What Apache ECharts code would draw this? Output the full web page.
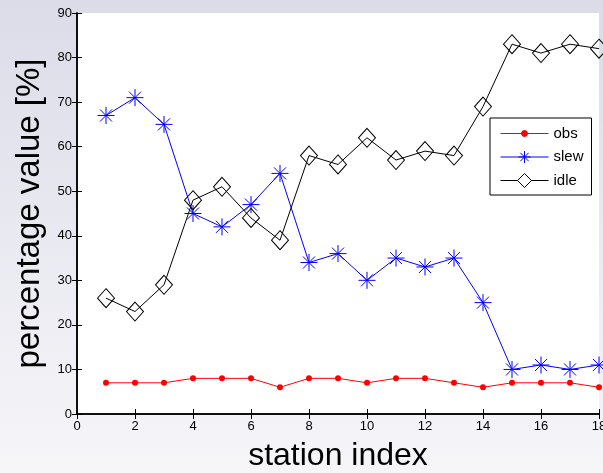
<!DOCTYPE html>
<html>
<head>
<meta charset="utf-8">
<script src="https://cdn.jsdelivr.net/npm/echarts@6/dist/echarts.min.js"></script>
<style>
html,body{margin:0;padding:0;}
body{width:603px;height:473px;background:linear-gradient(180deg,#dcdce9 0%,#e9e9f1 50%,#f6f6f9 100%);}
#c{width:603px;height:473px;}
</style>
</head>
<body>
<div id="c"></div>
<script>
const stations = [1,2,3,4,5,6,7,8,9,10,11,12,13,14,15,16,17,18];
const obs  = [7,7,7,8,8,8,6,8,8,7,8,8,7,6,7,7,7,6];
const slew = [67,71,65,45,42,47,54,34,36,30,35,33,35,25,10,11,10,11];
const idle = [26,23,29,48,51,44,39,58,56,62,57,59,58,69,83,81,83,82];
const xTicks = [0,2,4,6,8,10,12,14,16,18];
const yTicks = [0,10,20,30,40,50,60,70,80,90];

const pair = (xs, ys) => xs.map((x, i) => [x, ys[i]]);
const FONT = 'Liberation Sans, Arial, Helvetica, sans-serif';
const asterisk = 'path://M0,-10L0,10M-10,0L10,0M-7.07,-7.07L7.07,7.07M-7.07,7.07L7.07,-7.07';

// legend icons: line + marker, drawn in a 48x14 box
const iconObs  = 'path://M0,7L48,7M27,7A3,3 0 1 1 21,7A3,3 0 1 1 27,7Z';
const iconSlew = 'path://M0,7L48,7M24,1L24,13M18,7L30,7M19.8,2.8L28.2,11.2M19.8,11.2L28.2,2.8';
const iconIdle = 'path://M0,7L17,7M31,7L48,7M24,0L31,7L24,14L17,7Z';

const chart = echarts.init(document.getElementById('c'), null, {renderer: 'canvas'});
const axisCommon = {
  axisLine: {show: true, lineStyle: {color: '#000', width: 1.5}},
  axisTick: {show: true, inside: true, length: 5, lineStyle: {color: '#000', width: 1}},
  splitLine: {show: false}
};
chart.setOption({
  backgroundColor: 'transparent',
  animation: false,
  textStyle: {fontFamily: FONT},
  grid: {left: 77, right: 4, top: 13, bottom: 59, show: true, backgroundColor: '#fff', borderWidth: 0,
    containLabel: false, outerBoundsMode: 'none'},
  legend: {
    orient: 'vertical', left: 490, top: 118,
    backgroundColor: '#fff', borderColor: '#000', borderWidth: 1,
    padding: [8, 8, 7, 10], itemGap: 8.5, itemWidth: 48, itemHeight: 14,
    textStyle: {fontSize: 15, color: '#000', fontFamily: FONT},
    data: [
      {name: 'obs', icon: iconObs, itemStyle: {color: '#ff0000', borderColor: '#ff0000', borderWidth: 1}},
      {name: 'slew', icon: iconSlew, itemStyle: {color: 'rgba(0,0,0,0)', borderColor: '#0000ff', borderWidth: 1}},
      {name: 'idle', icon: iconIdle, itemStyle: {color: '#fff', borderColor: '#000', borderWidth: 1}}
    ]
  },
  xAxis: [
    Object.assign({
      type: 'value', min: 0, max: 18, interval: 2, position: 'bottom',
      name: 'station index', nameLocation: 'middle', nameGap: 26,
      nameTextStyle: {fontSize: 32, color: '#000', fontFamily: FONT},
      axisLabel: {color: '#000', fontSize: 13, margin: 6, fontFamily: FONT,
        customValues: xTicks, showMaxLabel: true}
    }, axisCommon),
    Object.assign({
      type: 'value', min: 0, max: 18, interval: 2, position: 'top',
      axisLabel: {show: false}
    }, axisCommon)
  ],
  yAxis: [
    Object.assign({
      type: 'value', min: 0, max: 90, interval: 10, position: 'left',
      name: 'percentage value [%]', nameLocation: 'middle', nameGap: 31,
      nameTextStyle: {fontSize: 33, color: '#000', fontFamily: FONT},
      axisLabel: {color: '#000', fontSize: 13, margin: 5, fontFamily: FONT,
        customValues: yTicks}
    }, axisCommon),
    Object.assign({
      type: 'value', min: 0, max: 90, interval: 10, position: 'right',
      axisLabel: {show: false}
    }, axisCommon)
  ],
  series: [
    {
      name: 'obs', type: 'line', data: pair(stations, obs),
      symbol: 'circle', symbolSize: 6, color: '#ff0000',
      lineStyle: {color: '#ff0000', width: 1},
      itemStyle: {color: '#ff0000'}
    },
    {
      name: 'slew', type: 'line', data: pair(stations, slew),
      symbol: asterisk, symbolSize: 17, color: '#0000ff',
      lineStyle: {color: '#0000ff', width: 1},
      itemStyle: {color: 'rgba(0,0,0,0)', borderColor: '#0000ff', borderWidth: 1}
    },
    {
      name: 'idle', type: 'line', data: pair(stations, idle),
      symbol: 'diamond', symbolSize: [17, 19], color: '#000',
      lineStyle: {color: '#000', width: 1},
      itemStyle: {color: 'rgba(0,0,0,0)', borderColor: '#000', borderWidth: 1}
    }
  ]
});
</script>
</body>
</html>
